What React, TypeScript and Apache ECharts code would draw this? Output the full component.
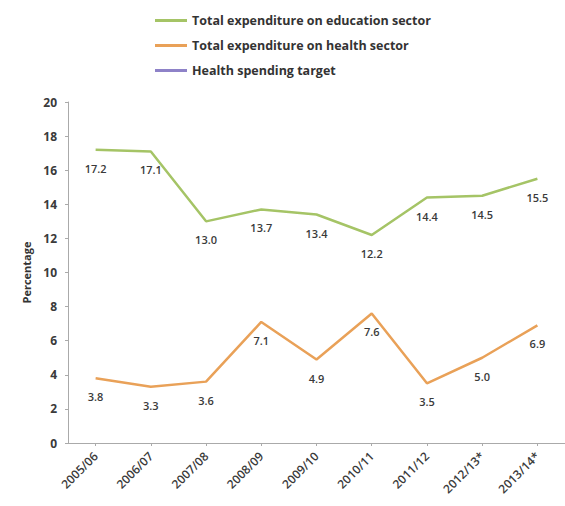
import React, { useEffect, useRef } from "react";
import * as echarts from "echarts";

const categories = ["2005/06", "2006/07", "2007/08", "2008/09", "2009/10", "2010/11", "2011/12", "2012/13*", "2013/14*"];
const education = [17.2, 17.1, 13.0, 13.7, 13.4, 12.2, 14.4, 14.5, 15.5];
const health = [3.8, 3.3, 3.6, 7.1, 4.9, 7.6, 3.5, 5.0, 6.9];
const target: number[] = [];
const seriesNames = ["Total expenditure on education sector", "Total expenditure on health sector", "Health spending target"];
const colors = ["#a5c466", "#e9a158", "#8e82c8"];

const FONT = "Open Sans";

export default function App() {
  const ref = useRef<HTMLDivElement>(null);
  useEffect(() => {
    if (!ref.current) return;
    const chart = echarts.init(ref.current, undefined, { renderer: "svg" });
    const label = {
      show: true,
      position: "bottom" as const,
      distance: 13,
      color: "#3a3a3a",
      fontSize: 11,
      fontFamily: FONT,
      fontWeight: 600 as any,
      formatter: (p: any) => Number(p.value).toFixed(1),
    };
    chart.setOption({
      animation: false,
      color: colors,
      legend: {
        orient: "vertical",
        left: 150,
        top: 9,
        itemWidth: 32,
        itemHeight: 3,
        itemGap: 12,
        icon: "rect",
        textStyle: { fontFamily: FONT, fontSize: 12.5, fontWeight: "bold", color: "#333" },
        data: seriesNames,
      },
      grid: { left: 68, top: 102, bottom: 63, right: -11, containLabel: false },
      xAxis: {
        type: "category",
        data: categories,
        boundaryGap: true,
        axisLine: { lineStyle: { color: "#aaaaaa", width: 1 } },
        axisTick: { show: true, length: 3, alignWithLabel: true, lineStyle: { color: "#aaaaaa" } },
        axisLabel: {
          rotate: 45,
          interval: 0,
          margin: 11,
          fontFamily: FONT,
          fontSize: 12,
          fontWeight: 600,
          color: "#3a3a3a",
        },
      },
      yAxis: {
        type: "value",
        min: 0,
        max: 20,
        interval: 2,
        name: "Percentage",
        nameLocation: "middle",
        nameGap: 36,
        nameTextStyle: { fontFamily: FONT, fontSize: 11, fontWeight: "bold", color: "#333" },
        axisLine: { show: true, lineStyle: { color: "#aaaaaa", width: 1 } },
        axisTick: { show: true, length: 3, lineStyle: { color: "#aaaaaa" } },
        splitLine: { show: false },
        axisLabel: { margin: 11, fontFamily: FONT, fontSize: 12, fontWeight: "bold", color: "#3a3a3a" },
      },
      series: [
        {
          name: seriesNames[0],
          type: "line",
          data: education,
          symbol: "circle",
          symbolSize: 0.1,
          showSymbol: true,
          itemStyle: { color: colors[0] },
          lineStyle: { width: 2.5, color: colors[0] },
          label,
        },
        {
          name: seriesNames[1],
          type: "line",
          data: health,
          symbol: "circle",
          symbolSize: 0.1,
          showSymbol: true,
          itemStyle: { color: colors[1] },
          lineStyle: { width: 2.5, color: colors[1] },
          label,
        },
        {
          name: seriesNames[2],
          type: "line",
          data: target,
          symbol: "none",
          itemStyle: { color: colors[2] },
          lineStyle: { width: 2.5, color: colors[2] },
        },
      ],
    });
    return () => chart.dispose();
  }, []);
  return (
    <div
      ref={ref}
      style={{ position: "fixed", left: 0, top: 0, width: 565, height: 506, background: "#fff" }}
    />
  );
}
